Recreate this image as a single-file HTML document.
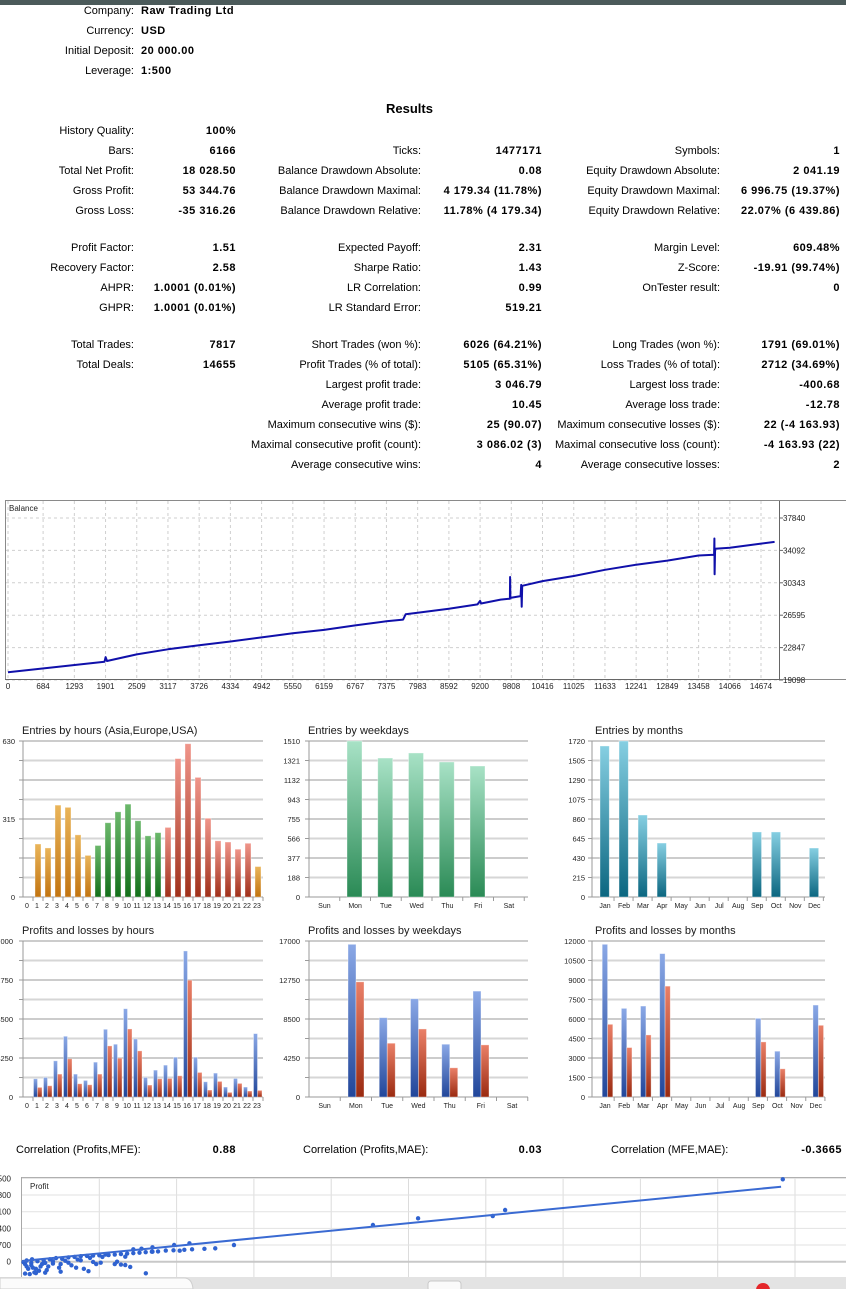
<!DOCTYPE html>
<html><head><meta charset="utf-8"><title>Strategy Tester Report</title>
<style>
html,body{margin:0;padding:0;background:#fff;}
body{width:846px;height:1289px;position:relative;overflow:hidden;font-family:"Liberation Sans",Arial,sans-serif;color:#000;}
.t{position:absolute;font-size:11px;line-height:14px;white-space:nowrap;}
.v{font-weight:bold;letter-spacing:0.5px;}
#charts{position:absolute;left:0;top:0;}
</style></head><body>
<div style="position:absolute;left:0;top:0;width:846px;height:5px;background:#4b5a5a"></div>

<div>
<div class="t" style="right:712px;top:4px">Company:</div>
<div class="t v" style="left:141px;top:4px">Raw Trading Ltd</div>
<div class="t" style="right:712px;top:24px">Currency:</div>
<div class="t v" style="left:141px;top:24px">USD</div>
<div class="t" style="right:712px;top:44px">Initial Deposit:</div>
<div class="t v" style="left:141px;top:44px">20 000.00</div>
<div class="t" style="right:712px;top:64px">Leverage:</div>
<div class="t v" style="left:141px;top:64px">1:500</div>
</div>

<div class="t v" style="left:386px;top:101px;font-size:13px;line-height:16px;letter-spacing:0">Results</div>

<div>
<div class="t" style="right:712px;top:124px">History Quality:</div>
<div class="t v" style="right:610px;top:124px">100%</div>

<div class="t" style="right:712px;top:144px">Bars:</div>
<div class="t v" style="right:610px;top:144px">6166</div>
<div class="t" style="right:425px;top:144px">Ticks:</div>
<div class="t v" style="right:304px;top:144px">1477171</div>
<div class="t" style="right:126px;top:144px">Symbols:</div>
<div class="t v" style="right:6px;top:144px">1</div>

<div class="t" style="right:712px;top:164px">Total Net Profit:</div>
<div class="t v" style="right:610px;top:164px">18 028.50</div>
<div class="t" style="right:425px;top:164px">Balance Drawdown Absolute:</div>
<div class="t v" style="right:304px;top:164px">0.08</div>
<div class="t" style="right:126px;top:164px">Equity Drawdown Absolute:</div>
<div class="t v" style="right:6px;top:164px">2 041.19</div>

<div class="t" style="right:712px;top:184px">Gross Profit:</div>
<div class="t v" style="right:610px;top:184px">53 344.76</div>
<div class="t" style="right:425px;top:184px">Balance Drawdown Maximal:</div>
<div class="t v" style="right:304px;top:184px">4 179.34 (11.78%)</div>
<div class="t" style="right:126px;top:184px">Equity Drawdown Maximal:</div>
<div class="t v" style="right:6px;top:184px">6 996.75 (19.37%)</div>

<div class="t" style="right:712px;top:204px">Gross Loss:</div>
<div class="t v" style="right:610px;top:204px">-35 316.26</div>
<div class="t" style="right:425px;top:204px">Balance Drawdown Relative:</div>
<div class="t v" style="right:304px;top:204px">11.78% (4 179.34)</div>
<div class="t" style="right:126px;top:204px">Equity Drawdown Relative:</div>
<div class="t v" style="right:6px;top:204px">22.07% (6 439.86)</div>

<div class="t" style="right:712px;top:241px">Profit Factor:</div>
<div class="t v" style="right:610px;top:241px">1.51</div>
<div class="t" style="right:425px;top:241px">Expected Payoff:</div>
<div class="t v" style="right:304px;top:241px">2.31</div>
<div class="t" style="right:126px;top:241px">Margin Level:</div>
<div class="t v" style="right:6px;top:241px">609.48%</div>

<div class="t" style="right:712px;top:261px">Recovery Factor:</div>
<div class="t v" style="right:610px;top:261px">2.58</div>
<div class="t" style="right:425px;top:261px">Sharpe Ratio:</div>
<div class="t v" style="right:304px;top:261px">1.43</div>
<div class="t" style="right:126px;top:261px">Z-Score:</div>
<div class="t v" style="right:6px;top:261px">-19.91 (99.74%)</div>

<div class="t" style="right:712px;top:281px">AHPR:</div>
<div class="t v" style="right:610px;top:281px">1.0001 (0.01%)</div>
<div class="t" style="right:425px;top:281px">LR Correlation:</div>
<div class="t v" style="right:304px;top:281px">0.99</div>
<div class="t" style="right:126px;top:281px">OnTester result:</div>
<div class="t v" style="right:6px;top:281px">0</div>

<div class="t" style="right:712px;top:301px">GHPR:</div>
<div class="t v" style="right:610px;top:301px">1.0001 (0.01%)</div>
<div class="t" style="right:425px;top:301px">LR Standard Error:</div>
<div class="t v" style="right:304px;top:301px">519.21</div>

<div class="t" style="right:712px;top:338px">Total Trades:</div>
<div class="t v" style="right:610px;top:338px">7817</div>
<div class="t" style="right:425px;top:338px">Short Trades (won %):</div>
<div class="t v" style="right:304px;top:338px">6026 (64.21%)</div>
<div class="t" style="right:126px;top:338px">Long Trades (won %):</div>
<div class="t v" style="right:6px;top:338px">1791 (69.01%)</div>

<div class="t" style="right:712px;top:358px">Total Deals:</div>
<div class="t v" style="right:610px;top:358px">14655</div>
<div class="t" style="right:425px;top:358px">Profit Trades (% of total):</div>
<div class="t v" style="right:304px;top:358px">5105 (65.31%)</div>
<div class="t" style="right:126px;top:358px">Loss Trades (% of total):</div>
<div class="t v" style="right:6px;top:358px">2712 (34.69%)</div>

<div class="t" style="right:425px;top:378px">Largest profit trade:</div>
<div class="t v" style="right:304px;top:378px">3 046.79</div>
<div class="t" style="right:126px;top:378px">Largest loss trade:</div>
<div class="t v" style="right:6px;top:378px">-400.68</div>

<div class="t" style="right:425px;top:398px">Average profit trade:</div>
<div class="t v" style="right:304px;top:398px">10.45</div>
<div class="t" style="right:126px;top:398px">Average loss trade:</div>
<div class="t v" style="right:6px;top:398px">-12.78</div>

<div class="t" style="right:425px;top:418px">Maximum consecutive wins ($):</div>
<div class="t v" style="right:304px;top:418px">25 (90.07)</div>
<div class="t" style="right:126px;top:418px">Maximum consecutive losses ($):</div>
<div class="t v" style="right:6px;top:418px">22 (-4 163.93)</div>

<div class="t" style="right:425px;top:438px">Maximal consecutive profit (count):</div>
<div class="t v" style="right:304px;top:438px">3 086.02 (3)</div>
<div class="t" style="right:126px;top:438px">Maximal consecutive loss (count):</div>
<div class="t v" style="right:6px;top:438px">-4 163.93 (22)</div>

<div class="t" style="right:425px;top:458px">Average consecutive wins:</div>
<div class="t v" style="right:304px;top:458px">4</div>
<div class="t" style="right:126px;top:458px">Average consecutive losses:</div>
<div class="t v" style="right:6px;top:458px">2</div>
</div>

<div>
<div class="t" style="left:16px;top:1143px">Correlation (Profits,MFE):</div>
<div class="t v" style="right:610px;top:1143px">0.88</div>
<div class="t" style="left:303px;top:1143px">Correlation (Profits,MAE):</div>
<div class="t v" style="right:304px;top:1143px">0.03</div>
<div class="t" style="left:611px;top:1143px">Correlation (MFE,MAE):</div>
<div class="t v" style="right:4px;top:1143px">-0.3665</div>
</div>

<svg id="charts" width="846" height="1289" viewBox="0 0 846 1289" xmlns="http://www.w3.org/2000/svg">
<defs>
<linearGradient id="gOrange" x1="0" y1="0" x2="0" y2="1"><stop offset="0" stop-color="#eab55a"/><stop offset="1" stop-color="#c27410"/></linearGradient>
<linearGradient id="gGreen" x1="0" y1="0" x2="0" y2="1"><stop offset="0" stop-color="#6bb86b"/><stop offset="1" stop-color="#13701a"/></linearGradient>
<linearGradient id="gRed" x1="0" y1="0" x2="0" y2="1"><stop offset="0" stop-color="#f0958a"/><stop offset="1" stop-color="#a0301a"/></linearGradient>
<linearGradient id="gTeal" x1="0" y1="0" x2="0" y2="1"><stop offset="0" stop-color="#a8e2c6"/><stop offset="1" stop-color="#2a8a55"/></linearGradient>
<linearGradient id="gCyan" x1="0" y1="0" x2="0" y2="1"><stop offset="0" stop-color="#86cfe2"/><stop offset="1" stop-color="#0b6680"/></linearGradient>
<linearGradient id="gBlue" x1="0" y1="0" x2="0" y2="1"><stop offset="0" stop-color="#8aa8e6"/><stop offset="1" stop-color="#21469a"/></linearGradient>
<linearGradient id="gLoss" x1="0" y1="0" x2="0" y2="1"><stop offset="0" stop-color="#ea8068"/><stop offset="1" stop-color="#9a2a10"/></linearGradient>
</defs>
</svg>

<script>
// ---------- DATA ----------
const balanceDeals = [0,1880,1901,1930,2509,3117,3726,4334,4942,5550,6159,6767,7375,7700,7750,7983,8592,9150,9200,9220,9600,9780,9785,9790,9990,10000,10010,10020,10416,11025,11633,12241,12849,13458,13760,13765,13770,13780,14066,14674,14940];
const balanceValues = [20006,21200,21750,21300,22057,22649,23123,23557,24030,24504,24898,25411,25885,26082,26713,26871,27345,27850,28250,27950,28400,28500,31014,28600,28800,30100,27580,30000,30540,31132,31843,32435,32908,33500,33579,35473,31330,34289,34407,34881,35080];
const balanceXTicks = [0,684,1293,1901,2509,3117,3726,4334,4942,5550,6159,6767,7375,7983,8592,9200,9808,10416,11025,11633,12241,12849,13458,14066,14674];
const balanceYTicks = [19098,22847,26595,30343,34092,37840];

const hourCats = ['0','1','2','3','4','5','6','7','8','9','10','11','12','13','14','15','16','17','18','19','20','21','22','23'];
const hourEntries = [0,214,198,371,362,251,168,208,300,344,375,308,247,260,281,559,619,483,318,227,222,193,217,123];
const hourProfits = [0,1989,2134,3943,6619,2496,1809,3798,7379,5751,9621,6330,2134,2930,3472,4340,15915,4340,1664,2604,1085,2026,1085,6908];
const hourLosses = [0,1049,1230,2496,4160,1447,1338,2496,5570,4232,7415,5028,1302,1989,2026,2315,12732,2677,760,1700,506,1483,651,723];
const hourEntryTicks = ['0','','','','315','','','','630'];

const dayCats = ['Sun','Mon','Tue','Wed','Thu','Fri','Sat'];
const dayEntries = [0,1510,1345,1394,1307,1268,0];
const dayProfits = [0,16638,8645,10707,5751,11538,0];
const dayLosses = [0,12551,5860,7415,3183,5679,0];
const dayEntryTicks = ['0','188','377','566','755','943','1132','1321','1510'];

const monthCats = ['Jan','Feb','Mar','Apr','May','Jun','Jul','Aug','Sep','Oct','Nov','Dec'];
const monthEntries = [1665,1720,904,595,0,0,0,0,717,717,0,540];
const monthProfits = [11745,6817,6996,11030,0,0,0,0,6051,3523,0,7072];
const monthLosses = [5591,3804,4774,8527,0,0,0,0,4238,2170,0,5515];
const monthEntryTicks = ['0','215','430','645','860','1075','1290','1505','1720'];
const monthPLTicks = ['0','1500','3000','4500','6000','7500','9000','10500','12000'];
const plTicks = ['0','','4250','','8500','','12750','','17000'];

const scatterMFE = [20,40,60,80,100,120,140,160,180,200,220,240,260,280,300,320,340,360,380,400,420,440,460,480,500,520,540,560,600,640,680,700,720,760,800,840,880,930,980,1050,1100,1180,1250,20,50,70,90,110,130,150,30,10,65,250,350,170,430,600,640,801,668,615,509,844,844,720,773,668,984,1020,1083,1371,2270,2562,3045,3125,4921,300,380,460,30,60,90,150,200,250];
const scatterProfit = [-100,-300,-50,-450,20,-200,60,-350,100,-80,150,-250,120,40,180,-150,200,90,230,-300,240,160,260,-100,270,200,300,280,300,320,340,-220,360,380,400,420,430,470,480,500,520,540,560,-500,-520,-250,-480,-380,-100,-460,50,-20,100,-420,-250,-200,-400,-100,-120,-487,-139,0,-42,603,420,520,546,210,701,462,772,701,1541,1822,1919,2171,3461,-40,60,-10,-200,-150,-300,-50,20,-100];
const trendMFE = [0,4910];
const trendProfit = [30,3150];
const scatterYTicks = [0,700,1400,2100,2800,3500];

// ---------- HELPERS ----------
const svg = document.getElementById('charts');
const NS = 'http://www.w3.org/2000/svg';
function mk(tag, a){const e=document.createElementNS(NS,tag);for(const k in a)e.setAttribute(k,a[k]);svg.appendChild(e);return e;}
function txt(x,y,s,size,anchor,fill){const e=mk('text',{x:x,y:y,'font-size':size,'text-anchor':anchor||'start',fill:fill||'#333','font-family':'Liberation Sans, Arial, sans-serif'});e.textContent=s;return e;}

// ---------- BALANCE CHART ----------
(function(){
  const bx = d => 8 + d*(761-8)/14674;
  const by = v => 680 - (v-19098)/(37840-19098)*162;
  const fr = mk('rect',{x:5.5,y:500.5,width:850,height:179,fill:'#fff',stroke:'#8a8a8a'});
  
  
  balanceXTicks.forEach(d=>{
    const g = mk('line',{x1:bx(d),x2:bx(d),y1:501,y2:679,stroke:'#cfcfcf','stroke-dasharray':'3,3'});
    
    
    const t = txt(bx(d),689,String(d),8,'middle','#222');
    
    
  });
  balanceYTicks.forEach(v=>{
    const g = mk('line',{x1:6,x2:779,y1:by(v),y2:by(v),stroke:'#cfcfcf','stroke-dasharray':'3,3'});
    
    
    const tk = mk('line',{x1:779,x2:783,y1:by(v),y2:by(v),stroke:'#666'});
    
    
    const t = txt(783,by(v)+3,String(v),8,'start','#222');
    
    
  });
  const ax = mk('line',{x1:779.5,x2:779.5,y1:501,y2:680,stroke:'#666'});
  
  
  const bax = mk('line',{x1:5,x2:779,y1:679.5,y2:679.5,stroke:'#666'});
  
  
  const lbl = txt(9,511,'Balance',8,'start','#222');
  
  
  const pts = balanceDeals.map((d,i)=>bx(d).toFixed(1)+','+by(balanceValues[i]).toFixed(1)).join(' ');
  const line = mk('polyline',{points:pts,fill:'none',stroke:'#1010aa','stroke-width':2,'stroke-linejoin':'round'});
  
  
})();

// ---------- BAR CHARTS ----------
function barChart(c){
  const y = v => c.bot - v/c.max*(c.bot-c.top);
  const n = c.cats.length;
  const t = txt(c.titleX, c.top-7, c.title, 11, 'start', '#1a1a1a');
  
  
  for(let i=0;i<=8;i++){
    const yy = c.bot - i*(c.bot-c.top)/8;
    const even = i%2===0;
    const g = mk('line',{x1:c.ax, x2:c.x1, y1:yy, y2:yy, stroke: even?'#9a9a9a':'#d6d6d6','stroke-width': even?1:2});
    
    
    const tk = mk('line',{x1:c.ax-4, x2:c.ax, y1:yy, y2:yy, stroke:'#9a9a9a'});
    
    
    if(c.ticks[i]){
      const l = txt(c.labX, yy+3, c.ticks[i], 7.5, 'end', '#222');
      
      
    }
  }
  const yax = mk('line',{x1:c.ax, x2:c.ax, y1:c.top, y2:c.bot, stroke:'#9a9a9a'});
  
  
  for(let k=0;k<n;k++){
    const sx = c.x0 + k*c.s;
    const sep = mk('line',{x1:sx+c.s, x2:sx+c.s, y1:c.bot, y2:c.bot+4, stroke:'#9a9a9a'});
    
    
    const cl = txt(sx + c.labOff, c.bot+11, c.cats[k], 7, 'middle', '#222');
    
    
    c.series.forEach(sr=>{
      const v = sr.vals[k];
      if(!v) return;
      const fill = typeof sr.fill === 'function' ? sr.fill(k) : sr.fill;
      const r = mk('rect',{x:sx+sr.off, y:y(v), width:sr.w, height:c.bot-y(v), fill:fill, stroke:'rgba(255,255,255,0.45)','stroke-width':0.8});
      
      
    });
  }
}
const hourFill = k => (k>=14 && k<=22) ? 'url(#gRed)' : (k>=7 && k<=13) ? 'url(#gGreen)' : 'url(#gOrange)';

barChart({name:'entries-by-hours', title:'Entries by hours (Asia,Europe,USA)', titleX:22, top:741, bot:897, max:630,
  ax:23, x0:23, x1:263, s:10, labOff:4, labX:15, cats:hourCats, ticks:hourEntryTicks,
  series:[{key:'entries', vals:hourEntries, off:2, w:6, fill:hourFill}]});
barChart({name:'entries-by-weekdays', title:'Entries by weekdays', titleX:308, top:741, bot:897, max:1510,
  ax:309, x0:309, x1:528, s:30.75, labOff:15.4, labX:300, cats:dayCats, ticks:dayEntryTicks,
  series:[{key:'entries', vals:dayEntries, off:7.25, w:15, fill:'url(#gTeal)'}]});
barChart({name:'entries-by-months', title:'Entries by months', titleX:595, top:741, bot:897, max:1720,
  ax:592, x0:595, x1:825, s:19.03, labOff:10, labX:585, cats:monthCats, ticks:monthEntryTicks,
  series:[{key:'entries', vals:monthEntries, off:5, w:9.3, fill:'url(#gCyan)'}]});

barChart({name:'pl-by-hours', title:'Profits and losses by hours', titleX:22, top:941, bot:1097, max:17000,
  ax:23, x0:23, x1:263, s:10, labOff:4, labX:13, cats:hourCats, ticks:plTicks,
  series:[{key:'profit', vals:hourProfits, off:0.5, w:4, fill:'url(#gBlue)'},{key:'loss', vals:hourLosses, off:4.5, w:4.5, fill:'url(#gLoss)'}]});
barChart({name:'pl-by-weekdays', title:'Profits and losses by weekdays', titleX:308, top:941, bot:1097, max:17000,
  ax:309, x0:309, x1:528, s:31.25, labOff:15.6, labX:300, cats:dayCats, ticks:plTicks,
  series:[{key:'profit', vals:dayProfits, off:7.75, w:8, fill:'url(#gBlue)'},{key:'loss', vals:dayLosses, off:15.75, w:8, fill:'url(#gLoss)'}]});
barChart({name:'pl-by-months', title:'Profits and losses by months', titleX:595, top:941, bot:1097, max:12000,
  ax:592, x0:595, x1:825, s:19.16, labOff:10, labX:585, cats:monthCats, ticks:monthPLTicks,
  series:[{key:'profit', vals:monthProfits, off:7.2, w:5.4, fill:'url(#gBlue)'},{key:'loss', vals:monthLosses, off:12.6, w:5.2, fill:'url(#gLoss)'}]});

// ---------- SCATTER ----------
(function(){
  const sx = v => 22 + v*0.1546;
  const sy = v => 1261.7 - v*0.02381;
  const fr = mk('rect',{x:21.5,y:1177.5,width:830,height:110,fill:'#fff',stroke:'#a8a8a8'});
  
  
  for(let i=1;i<=10;i++){
    const gx = sx(i*500);
    const g = mk('line',{x1:gx,x2:gx,y1:1178,y2:1285,stroke:'#dcdcdc'});
    
    
  }
  scatterYTicks.forEach(v=>{
    const g = mk('line',{x1:22,x2:846,y1:sy(v),y2:sy(v),stroke: v===0?'#c8c8c8':'#e2e2e2','stroke-width': v===0?2:1});
    
    
    const t = txt(11,sy(v)+3,String(v),8,'end','#222');
    
    
  });
  const lb = txt(30,1189,'Profit',8,'start','#222');
  
  
  scatterMFE.forEach((m,i)=>{
    const c = mk('circle',{cx:sx(m),cy:sy(scatterProfit[i]),r:2.2,fill:'#2f62d0'});
    
    
  });
  const tl = mk('line',{x1:sx(trendMFE[0]),y1:sy(trendProfit[0]),x2:sx(trendMFE[1]),y2:sy(trendProfit[1]),stroke:'#3a6ad2','stroke-width':2});
  
  
})();

// ---------- BOTTOM BROWSER BAR ----------
(function(){
  const bar = mk('rect',{x:0,y:1277,width:846,height:12,fill:'#e3e3e3'});
  
  
  const tab = mk('path',{d:'M0 1289 L0 1278 L184 1278 Q192 1278 193 1289 Z',fill:'#fbfbfb',stroke:'#cfcfcf'});
  
  
  const btn = mk('rect',{x:428,y:1281,width:33,height:10,rx:3,fill:'#fafafa',stroke:'#c8c8c8'});
  
  
  const dot = mk('circle',{cx:763,cy:1290,r:7,fill:'#e4262a'});
  
  
})();
</script>
</body></html>
